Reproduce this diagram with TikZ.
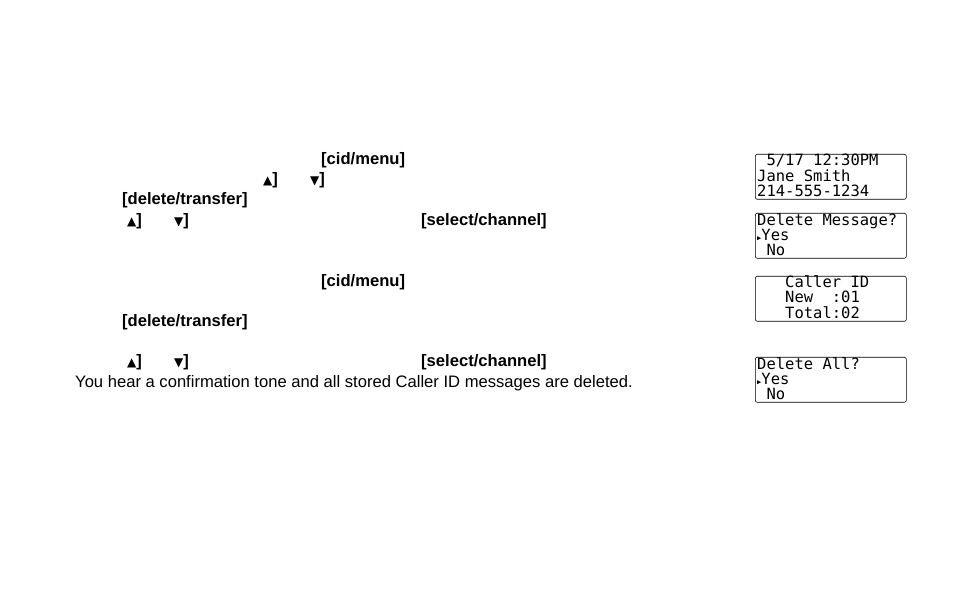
\documentclass[tikz,border=0pt]{standalone}
\usepackage{fontspec}
\setmainfont{Liberation Sans}
\newfontfamily\lcdfont{DejaVu Sans Mono}
\newfontfamily\symfont{DejaVu Sans}
\usetikzlibrary{positioning}
\tikzset{
	key/.style={anchor=west, inner sep=0pt, font=\fontsize{16.6}{18}\selectfont\bfseries},
	plain/.style={anchor=west, inner sep=0pt, font=\fontsize{16.6}{18}\selectfont},
	lcd/.style={draw, rounded corners=2pt, anchor=north west, minimum width=151pt, minimum height=45pt,
		inner sep=0pt, semithick}
}
\newcommand{\upk}{{\symfont\fontsize{12}{12}\selectfont ▲}]}
\newcommand{\dnk}{{\symfont\fontsize{12}{12}\selectfont ▼}]}
\newcommand{\lcdtext}[1]{\lcdfont\fontsize{15.5}{13.5}\selectfont\renewcommand\arraystretch{0.9}\begin{tabular}{@{}l@{}}#1\end{tabular}}
\begin{document}
\begin{tikzpicture}[x=1pt,y=-1pt]
	\useasboundingbox (0,0) rectangle (954,609);
	% step text
	\node[key] (menu1) at (321,160) {[cid/menu]};
	\node[key] (up1) at (263,180) {\upk};
	\node[key] (dn1) at (310,180) {\dnk};
	\node[key] (del1) at (122,200) {[delete/transfer]};
	\node[key] (up2) at (127,221) {\upk};
	\node[key] (dn2) at (174,221) {\dnk};
	\node[key] (sel1) at (421,221) {[select/channel]};
	\node[key] (menu2) at (321,282) {[cid/menu]};
	\node[key] (del2) at (122,322) {[delete/transfer]};
	\node[key] (up3) at (127,362) {\upk};
	\node[key] (dn3) at (174,362) {\dnk};
	\node[key] (sel2) at (421,362) {[select/channel]};
	\node[plain] (done) at (75,383) {You hear a confirmation tone and all stored Caller ID messages are deleted.};
	% displays
	\node[lcd] (scr1) at (755,154) {};
	\node[lcd] (scr2) at (755,213) {};
	\node[lcd] (scr3) at (755,276) {};
	\node[lcd] (scr4) at (755,357) {};
	\node[anchor=west, inner sep=0pt] (txt1) at (757,177) {\lcdtext{~5/17 12:30PM\\Jane Smith\\214-555-1234}};
	\node[anchor=west, inner sep=0pt] (txt2) at (757,236) {\lcdtext{Delete Message?\\{\fontsize{7}{7}\selectfont ▶}Yes\\~No}};
	\node[anchor=west, inner sep=0pt] (txt3) at (757,299) {\lcdtext{~~~Caller ID\\~~~New~~:01\\~~~Total:02}};
	\node[anchor=west, inner sep=0pt] (txt4) at (757,380) {\lcdtext{Delete All?\\{\fontsize{7}{7}\selectfont ▶}Yes\\~No}};
\end{tikzpicture}
\end{document}
